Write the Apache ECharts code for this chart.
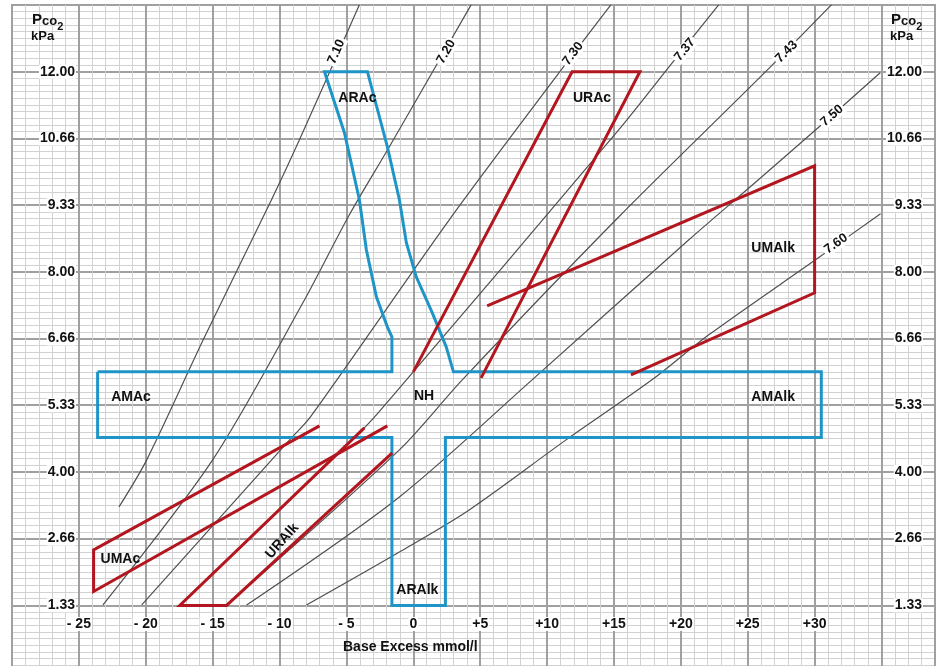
<!DOCTYPE html>
<html lang="en">
<head>
  <meta charset="UTF-8">
  <title>Acid-base nomogram</title>
  <script src="https://cdn.jsdelivr.net/npm/echarts@6.0.0/dist/echarts.min.js"></script>
</head>
<body>
  <style>
    html, body, #chart {
      width: 100%;
      height: 100%;
      margin: 0;
      padding: 0;
      background: #fff;
    }
  </style>
  <div id="chart"></div>
  <script>
    // axis ticks
    const beTicks = [-25, -20, -15, -10, -5, 0, 5, 10, 15, 20, 25, 30]
    const beTickLabels = ['- 25', '- 20', '- 15', '- 10', '- 5', '0', '+5', '+10', '+15', '+20', '+25', '+30']
    const pTickLabels = ['1.33', '2.66', '4.00', '5.33', '6.66', '8.00', '9.33', '10.66', '12.00']

    // iso-pH lines, [base excess, pCO2 kPa]
    const phNames = ['7.10', '7.20', '7.30', '7.37', '7.43', '7.50', '7.60']
    const ph710 = [[-4.03, 13.34], [-8.51, 10.64], [-10.6, 9.44], [-15.67, 6.66], [-19.93, 4.24], [-22.0, 3.3]]
    const ph720 = [[4.33, 13.34], [-1.79, 10.5], [-4.78, 9.14], [-8.13, 7.44], [-15.0, 4.24], [-23.2, 1.34]]
    const ph730 = [[14.78, 13.34], [10.9, 11.98], [2.69, 9.04], [-7.69, 5.1], [-9.25, 4.64], [-20.3, 1.34]]
    const ph737 = [[22.84, 13.34], [19.25, 12.14], [15.37, 10.84], [-1.79, 5.44], [-3.66, 4.88], [-17.46, 1.34]]
    const ph743 = [[31.27, 13.34], [26.34, 12.0], [15.37, 9.1], [3.66, 5.84], [-1.04, 4.44], [-13.96, 1.34]]
    const ph750 = [[34.9, 11.98], [31.2, 11.1], [25.8, 9.84], [20.6, 8.64], [8.88, 5.84], [-1.04, 3.5], [-12.46, 1.34]]
    const ph760 = [[34.93, 9.16], [30.07, 8.24], [22.09, 6.74], [17.84, 5.84], [11.42, 4.64], [4.18, 3.24], [-1.04, 2.4], [-7.99, 1.34]]
    const phLabelAt = [[-5.75, 12.4], [2.46, 12.4], [11.94, 12.36], [20.3, 12.44], [27.9, 12.4], [31.3, 11.12], [31.6, 8.56]]
    const phLabelAngle = [66, 60, 53, 51, 45, 41, 35]

    // acute (blue) zone outline
    const acuteOutline = [
      [-23.6, 6.0], [-1.6, 6.0], [-1.6, 6.7], [-1.94, 6.9], [-2.76, 7.5], [-3.51, 8.44], [-4.03, 9.44],
      [-5.15, 10.78], [-6.64, 12.0], [-3.43, 12.0], [-1.94, 10.5], [-1.04, 9.44], [-0.52, 8.58],
      [0.22, 7.9], [1.42, 7.18], [2.46, 6.5], [3.0, 6.0], [30.5, 6.0], [30.5, 4.69], [2.4, 4.69],
      [2.4, 1.33], [-1.6, 1.33], [-1.6, 4.69], [-23.6, 4.69], [-23.6, 6.0]
    ]

    // chronic (red) zones
    const uRAc = [[0.0, 6.0], [11.87, 12.0], [16.94, 12.0], [5.07, 5.88]]
    const uMAlk = [[5.52, 7.32], [30.0, 10.12], [30.0, 7.58], [16.27, 5.94]]
    const uMAc = [[-7.01, 4.92], [-23.9, 2.44], [-23.9, 1.61], [-1.94, 4.92]]
    const uRAlk = [[-3.66, 4.88], [-17.46, 1.33], [-13.96, 1.33], [-1.57, 4.38]]

    const regionNames = ['ARAc', 'URAc', 'UMAlk', 'AMAc', 'NH', 'AMAlk', 'UMAc', 'URAlk', 'ARAlk']
    const regionAt = [[-4.18, 11.48], [13.36, 11.48], [26.9, 8.48], [-21.1, 5.5], [0.8, 5.52], [26.9, 5.5], [-21.9, 2.26], [-9.8, 2.62], [0.3, 1.64]]

    const FONT = '"Liberation Sans", Arial, sans-serif'
    const INK = '#111'
    const BLUE = '#1e95c6'
    const RED = '#b3161f'

    const chart = echarts.init(document.getElementById('chart'))

    function pLabel(v) {
      const k = Math.round(v * 0.75)
      if (Math.abs(v * 0.75 - k) > 1e-6 || k < 1 || k > 9) return ''
      return pTickLabels[k - 1]
    }
    function beLabel(v) {
      const i = beTicks.indexOf(Math.round(v))
      return (i < 0 || Math.abs(v - Math.round(v)) > 1e-6) ? '' : beTickLabels[i]
    }

    const yBase = {
      type: 'value',
      min: 0,
      max: 40 / 3,
      interval: 4 / 3,
      axisLine: { show: false },
      axisTick: { show: false }
    }
    const labelText = {
      fontFamily: FONT, fontWeight: 'bold', fontSize: 14, color: INK,
      textBorderWidth: 0, textBorderColor: 'transparent'
    }
    const pco2Rich = {
      p: { fontFamily: FONT, fontWeight: 'bold', fontSize: 15, verticalAlign: 'top', color: INK },
      c: { fontFamily: FONT, fontWeight: 'bold', fontSize: 13, verticalAlign: 'top', padding: [3, 0, 0, 0], color: INK },
      s: { fontFamily: FONT, fontWeight: 'bold', fontSize: 11, verticalAlign: 'top', padding: [9, 0, 0, 0], color: INK }
    }

    const phSeries = [ph710, ph720, ph730, ph737, ph743, ph750, ph760].map((d, i) => ({
      name: 'pH ' + phNames[i],
      type: 'line',
      data: d,
      smooth: 0.3,
      symbol: 'none',
      silent: true,
      z: 2,
      lineStyle: { color: '#505050', width: 1.2 }
    }))

    const redSeries = [uRAc, uMAlk, uMAc, uRAlk].map(d => ({
      type: 'line',
      data: d,
      symbol: 'none',
      silent: true,
      z: 4,
      lineStyle: { color: RED, width: 3, join: 'miter' }
    }))

    chart.setOption({
      animation: false,
      backgroundColor: '#fff',
      title: [
        { left: 32, top: 12, padding: 0, text: '{p|P}{c|co}{s|2}', textStyle: { rich: pco2Rich } },
        { left: 31, top: 30, padding: 0, text: 'kPa', textStyle: { fontFamily: FONT, fontWeight: 'bold', fontSize: 13, color: INK } },
        { left: 891, top: 12, padding: 0, text: '{p|P}{c|co}{s|2}', textStyle: { rich: pco2Rich } },
        { left: 890, top: 30, padding: 0, text: 'kPa', textStyle: { fontFamily: FONT, fontWeight: 'bold', fontSize: 13, color: INK } },
        { left: 343, top: 640, padding: 0, text: 'Base Excess mmol/l', textStyle: { fontFamily: FONT, fontWeight: 'bold', fontSize: 14, color: INK } }
      ],
      grid: {
        left: 12, right: 6, top: 5, bottom: -6,
        show: true,
        borderColor: '#a0a0a0',
        borderWidth: 2,
        outerBoundsMode: 'none'
      },
      xAxis: {
        type: 'value',
        min: -30,
        max: 39,
        interval: 5,
        axisLine: { show: false },
        axisTick: { show: false },
        axisLabel: {
          inside: true,
          margin: 48,
          verticalAlign: 'middle',
          formatter: beLabel,
          backgroundColor: '#fff',
          padding: [0, 1],
          ...labelText
        },
        splitLine: { show: true, lineStyle: { color: '#a0a0a0', width: 2 } },
        minorTick: { show: false, splitNumber: 5 },
        minorSplitLine: { show: true, lineStyle: { color: '#d2d2d2', width: 1 } }
      },
      yAxis: [
        {
          ...yBase,
          position: 'left',
          axisLabel: {
            inside: true, margin: 64, align: 'right',
            formatter: pLabel, backgroundColor: '#fff', padding: [0, 1],
            ...labelText
          },
          splitLine: { show: true, lineStyle: { color: '#a0a0a0', width: 2 } },
          minorTick: { show: false, splitNumber: 10 },
          minorSplitLine: { show: true, lineStyle: { color: '#d2d2d2', width: 1 } }
        },
        {
          ...yBase,
          position: 'right',
          axisLabel: {
            inside: true, margin: 12, align: 'right',
            formatter: pLabel, backgroundColor: '#fff', padding: [0, 1],
            ...labelText
          },
          splitLine: { show: false }
        }
      ],
      series: [
        ...phSeries,
        {
          name: 'acute',
          type: 'line',
          data: acuteOutline,
          symbol: 'none',
          silent: true,
          z: 3,
          lineStyle: { color: BLUE, width: 3, join: 'miter' }
        },
        ...redSeries,
        {
          name: 'pH labels',
          type: 'scatter',
          z: 6,
          silent: true,
          symbolSize: 0,
          itemStyle: { color: INK, opacity: 1 },
          label: {
            show: true,
            position: 'inside',
            formatter: p => p.name,
            ...labelText,
            fontSize: 13,
            opacity: 1,
            backgroundColor: '#fff',
            padding: [0, 2]
          },
          data: phNames.map((n, i) => ({ name: n, value: phLabelAt[i], label: { rotate: phLabelAngle[i] } }))
        },
        {
          name: 'zones',
          type: 'scatter',
          z: 6,
          silent: true,
          symbolSize: 0,
          itemStyle: { color: INK, opacity: 1 },
          label: {
            show: true,
            position: 'inside',
            formatter: p => p.name,
            opacity: 1,
            ...labelText
          },
          data: regionNames.map((n, i) => ({
            name: n,
            value: regionAt[i],
            label: n === 'URAlk' ? { rotate: 48 } : {}
          }))
        }
      ]
    })
  </script>
</body>
</html>
